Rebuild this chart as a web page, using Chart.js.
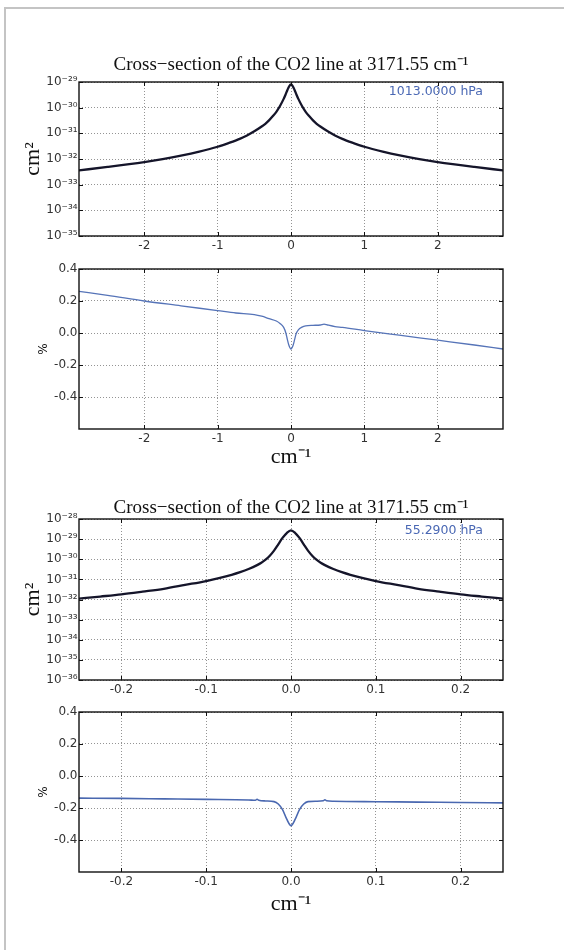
<!DOCTYPE html>
<html>
<head>
<meta charset="utf-8">
<script src="https://cdn.jsdelivr.net/npm/chart.js@4/dist/chart.umd.min.js"></script>
<style>
  html, body { margin: 0; padding: 0; background: #fff; }
  body { width: 564px; height: 950px; position: relative; overflow: hidden; }
  #frame { position: absolute; left: 4px; top: 7px; width: 600px; height: 1000px;
           border-left: 2px solid #c4c4c4; border-top: 2px solid #c4c4c4; }
  canvas { position: absolute; left: 0; }
</style>
</head>
<body>
<div id="frame"></div>
<canvas id="c1" width="564" height="220" style="top:40px"></canvas>
<canvas id="c2" width="564" height="220" style="top:260px"></canvas>
<canvas id="c3" width="564" height="220" style="top:480px"></canvas>
<canvas id="c4" width="564" height="250" style="top:700px"></canvas>
<script>
// ---------- data ----------
const titleText = 'Cross\u2212section of the CO2 line at 3171.55 cm\u207B\u00B9';
const pressure1 = '1013.0000 hPa';
const pressure2 = '55.2900 hPa';

// Panel 1: cross-section at 1013 hPa (cm^2) vs wavenumber offset (cm^-1)
const wn1013 = [-2.89,-2.5,-2,-1.75,-1.5,-1.25,-1,-0.85,-0.7,-0.6,-0.5,-0.4,-0.35,-0.3,-0.25,-0.2,-0.15,-0.1,-0.075,-0.05,-0.025,0,
                0.025,0.05,0.075,0.1,0.15,0.2,0.25,0.3,0.35,0.4,0.5,0.6,0.7,0.85,1,1.25,1.5,1.75,2,2.5,2.89];
const xsec1013 = [3.6e-33,4.9e-33,7.6e-33,9.9e-33,1.35e-32,1.94e-32,3.0e-32,4.2e-32,6.1e-32,8.3e-32,1.2e-31,1.84e-31,2.36e-31,3.2e-31,4.6e-31,6.9e-31,1.16e-30,2.2e-30,3.2e-30,4.8e-30,6.8e-30,8.0e-30,
                  6.8e-30,4.8e-30,3.2e-30,2.2e-30,1.16e-30,6.9e-31,4.6e-31,3.2e-31,2.36e-31,1.84e-31,1.2e-31,8.3e-32,6.1e-32,4.2e-32,3.0e-32,1.94e-32,1.35e-32,9.9e-33,7.6e-33,4.9e-33,3.6e-33];

// Panel 2: relative difference (%) at 1013 hPa
const wnDiff1013 = [-2.89,-2.5,-2,-1.5,-1,-0.75,-0.5,-0.4,-0.3,-0.2,-0.15,-0.1,-0.07,-0.05,-0.03,0,0.03,0.05,0.07,0.1,0.15,0.2,0.3,0.4,0.45,0.5,0.6,0.7,1,1.5,2,2.5,2.89];
const diff1013 = [0.26,0.235,0.2,0.17,0.14,0.125,0.115,0.105,0.09,0.075,0.06,0.035,0.0,-0.04,-0.075,-0.1,-0.075,-0.04,-0.005,0.02,0.037,0.045,0.048,0.05,0.056,0.05,0.04,0.035,0.015,-0.015,-0.045,-0.075,-0.1];

// Panel 3: cross-section at 55.29 hPa
const wn55 = [-0.25,-0.225,-0.2,-0.175,-0.15,-0.125,-0.1,-0.085,-0.07,-0.06,-0.05,-0.04,-0.035,-0.03,-0.025,-0.02,-0.015,-0.01,-0.005,0,
              0.005,0.01,0.015,0.02,0.025,0.03,0.035,0.04,0.05,0.06,0.07,0.085,0.1,0.125,0.15,0.175,0.2,0.225,0.25];
const xsec55 = [1.1e-32,1.4e-32,1.8e-32,2.45e-32,3.4e-32,5.3e-32,8.3e-32,1.15e-31,1.68e-31,2.28e-31,3.27e-31,5.1e-31,6.7e-31,9.5e-31,1.5e-30,2.7e-30,5.5e-30,1.15e-29,2.0e-29,2.7e-29,
                2.0e-29,1.15e-29,5.5e-30,2.7e-30,1.5e-30,9.5e-31,6.7e-31,5.1e-31,3.27e-31,2.28e-31,1.68e-31,1.15e-31,8.3e-32,5.3e-32,3.4e-32,2.45e-32,1.8e-32,1.4e-32,1.1e-32];

// Panel 4: relative difference (%) at 55.29 hPa
const wnDiff55 = [-0.25,-0.2,-0.15,-0.1,-0.05,-0.042,-0.04,-0.038,-0.03,-0.02,-0.015,-0.01,-0.005,0,0.005,0.01,0.015,0.02,0.03,0.038,0.04,0.042,0.05,0.1,0.15,0.2,0.25];
const diff55 = [-0.138,-0.14,-0.143,-0.146,-0.15,-0.152,-0.145,-0.152,-0.156,-0.16,-0.175,-0.21,-0.27,-0.31,-0.27,-0.21,-0.175,-0.16,-0.158,-0.155,-0.148,-0.155,-0.158,-0.161,-0.163,-0.166,-0.168];

// tick values
const xTicksWide = [-2,-1,0,1,2];
const xTicksNarrow = [-0.2,-0.1,0,0.1,0.2];
const yTicksLog1 = [1e-35,1e-34,1e-33,1e-32,1e-31,1e-30,1e-29];
const yTicksLog2 = [1e-36,1e-35,1e-34,1e-33,1e-32,1e-31,1e-30,1e-29,1e-28];
const yTicksDiff = [-0.4,-0.2,0,0.2,0.4];

// ---------- helpers ----------
const SUP = {'-':'\u207B','0':'\u2070','1':'\u00B9','2':'\u00B2','3':'\u00B3','4':'\u2074','5':'\u2075','6':'\u2076','7':'\u2077','8':'\u2078','9':'\u2079'};
const pow10Label = v => '10' + String(Math.round(Math.log10(v))).split('').map(c => SUP[c]).join('');
const tickFont = {family: 'DejaVu Sans', size: 12};
const tickColor = '#333';
const gridStyle = {color: 'rgba(0,0,0,0.42)', lineWidth: 1, drawTicks: false, tickLength: 0};
const borderStyle = {display: false, dash: [1, 2]};

const framePlugin = {
  id: 'frameTicks',
  afterDraw(chart, args, opts) {
    const {ctx, chartArea: a, scales} = chart;
    ctx.save();
    ctx.strokeStyle = '#111';
    ctx.lineWidth = 1;
    ctx.beginPath();
    scales.x.ticks.forEach(t => {
      const p = Math.round(scales.x.getPixelForValue(t.value)) + 0.5;
      ctx.moveTo(p, a.bottom); ctx.lineTo(p, a.bottom - 4);
      ctx.moveTo(p, a.top); ctx.lineTo(p, a.top + 4);
    });
    scales.y.ticks.forEach(t => {
      const p = Math.round(scales.y.getPixelForValue(t.value)) + 0.5;
      ctx.moveTo(a.left, p); ctx.lineTo(a.left + 4, p);
      ctx.moveTo(a.right, p); ctx.lineTo(a.right - 4, p);
    });
    ctx.stroke();
    ctx.lineWidth = 1.4;
    ctx.strokeStyle = '#111';
    ctx.strokeRect(a.left, a.top, a.right - a.left, a.bottom - a.top);
    if (opts && opts.label) {
      ctx.fillStyle = '#4a68b4';
      ctx.font = '12.5px "DejaVu Sans"';
      ctx.textAlign = 'right';
      ctx.textBaseline = 'middle';
      ctx.fillText(opts.label, a.right - 20, a.top + opts.dy);
    }
    ctx.restore();
  }
};

function makeChart(id, cfg) {
  const xs = cfg.x, ys = cfg.y;
  return new Chart(document.getElementById(id), {
    type: 'line',
    data: {
      datasets: [{
        data: xs.map((x, i) => ({x: x, y: ys[i]})),
        borderColor: cfg.color,
        borderWidth: cfg.width,
        pointRadius: 0,
        cubicInterpolationMode: 'monotone',
        fill: false
      }]
    },
    plugins: [framePlugin],
    options: {
      responsive: false,
      animation: false,
      devicePixelRatio: 1,
      layout: {padding: {left: 0, right: 61, top: cfg.padTop, bottom: 0}},
      plugins: {
        legend: {display: false},
        tooltip: {enabled: false},
        title: cfg.title ? {
          display: true, text: cfg.title, fullSize: false,
          color: '#111', font: {family: 'Liberation Serif', size: 19, weight: 'normal', lineHeight: 1.2},
          padding: {top: 0, bottom: cfg.titlePad}
        } : {display: false},
        frameTicks: {label: cfg.label, dy: cfg.labelDy}
      },
      scales: {
        x: {
          type: 'linear', min: cfg.xmin, max: cfg.xmax,
          grid: gridStyle, border: borderStyle,
          afterBuildTicks: s => { s.ticks = cfg.xticks.map(v => ({value: v})); },
          afterFit: s => { s.height = cfg.xh; },
          ticks: {
            font: tickFont, color: tickColor, padding: 3, maxRotation: 0, autoSkip: false,
            callback: v => cfg.xdec ? (Math.abs(v) < 1e-9 ? '0.0' : v.toFixed(1)) : String(Math.round(v))
          },
          title: cfg.xtitle ? {
            display: true, text: 'cm\u207B\u00B9', color: '#111',
            font: {family: 'Liberation Serif', size: 22, lineHeight: 1.2},
            padding: {top: 0, bottom: cfg.xtitlePad}
          } : {display: false}
        },
        y: {
          type: cfg.log ? 'logarithmic' : 'linear', min: cfg.ymin, max: cfg.ymax,
          grid: gridStyle, border: borderStyle,
          afterBuildTicks: s => { s.ticks = cfg.yticks.map(v => ({value: v})); },
          afterFit: s => { s.width = 79; },
          ticks: {
            font: tickFont, color: tickColor, padding: 1.5, autoSkip: false,
            callback: v => cfg.log ? pow10Label(v) : (Math.abs(v) < 1e-9 ? '0.0' : v.toFixed(1))
          },
          title: cfg.log ? {
            display: true, text: 'cm\u00B2', color: '#111',
            font: {family: 'Liberation Serif', size: 22, lineHeight: 1.2},
            padding: {top: 20, bottom: 0}
          } : {
            display: true, text: '%', color: '#111',
            font: {family: 'DejaVu Sans', size: 12, lineHeight: 1.2},
            padding: {top: 37, bottom: 0}
          }
        }
      }
    }
  });
}

makeChart('c1', {x: wn1013, y: xsec1013, color: '#15152a', width: 2.3, log: true,
  xmin: -2.89, xmax: 2.89, ymin: 1e-35, ymax: 1e-29, xticks: xTicksWide, yticks: yTicksLog1,
  title: titleText, titlePad: 6, padTop: 13.2, xh: 24, label: pressure1, labelDy: 10});
makeChart('c2', {x: wnDiff1013, y: diff1013, color: '#5674b8', width: 1.3, log: false,
  xmin: -2.89, xmax: 2.89, ymin: -0.6, ymax: 0.4, xticks: xTicksWide, yticks: yTicksDiff,
  padTop: 9, xh: 51, xtitle: true, xtitlePad: 9.8});
makeChart('c3', {x: wn55, y: xsec55, color: '#15152a', width: 2.3, log: true, xdec: true,
  xmin: -0.25, xmax: 0.25, ymin: 1e-36, ymax: 1e-28, xticks: xTicksNarrow, yticks: yTicksLog2,
  title: titleText, titlePad: 0, padTop: 16.2, xh: 20, label: pressure2, labelDy: 12});
makeChart('c4', {x: wnDiff55, y: diff55, color: '#4a68b0', width: 1.6, log: false, xdec: true,
  xmin: -0.25, xmax: 0.25, ymin: -0.6, ymax: 0.4, xticks: xTicksNarrow, yticks: yTicksDiff,
  padTop: 12, xh: 78, xtitle: true, xtitlePad: 33});
</script>
</body>
</html>
